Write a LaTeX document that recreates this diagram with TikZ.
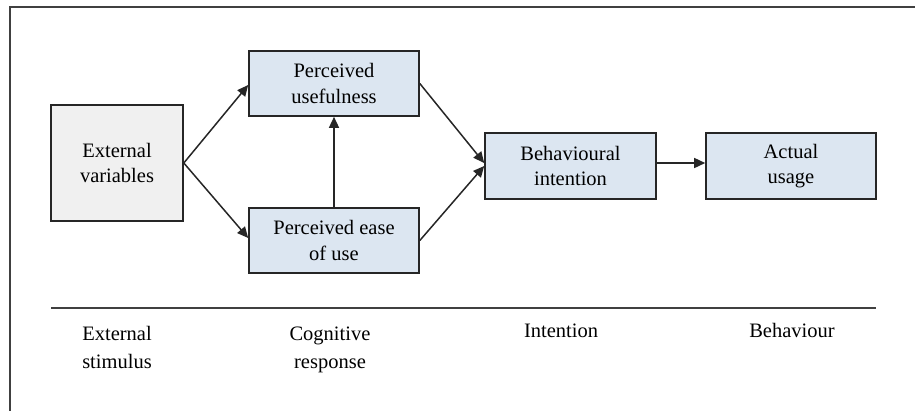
\documentclass[tikz,border=0pt]{standalone}
\usepackage{fontspec}
\setmainfont{Liberation Serif}
\usetikzlibrary{arrows.meta}
\begin{document}
\begin{tikzpicture}[x=1pt,y=-1pt,
  box/.style={draw=black!85, line width=1.6pt, fill=boxblue, align=center,
    font=\fontsize{20.5}{25.5}\selectfont, inner sep=0pt},
  extbox/.style={box, fill=black!6},
  conn/.style={draw=black!85, line width=1.5pt, -{Triangle[length=11pt,width=10pt]}},
  caption/.style={align=center, font=\fontsize{20.5}{28}\selectfont, anchor=north}]
\definecolor{boxblue}{HTML}{DCE6F1}
\useasboundingbox (0,0) rectangle (915,410);
% outer frame, running off the right and bottom edges
\draw[black!75, line width=1.6pt] (10,412) -- (10,7) -- (917,7);
% boxes
\node[extbox, minimum width=132pt, minimum height=116pt] (ext) at (117,163) {External\\variables};
\node[box, minimum width=170pt, minimum height=65pt] (pu) at (334,83.5) {Perceived\\usefulness};
\node[box, minimum width=170pt, minimum height=65pt] (peu) at (334,240.5) {Perceived ease\\of use};
\node[box, minimum width=171pt, minimum height=66pt] (bi) at (570.5,166) {Behavioural\\intention};
\node[box, minimum width=170pt, minimum height=66pt] (au) at (791,166) {Actual\\usage};
% connectors
\coordinate (extout) at (ext.east);
\draw[conn] (extout) -- ([yshift=-1.5pt]pu.west);
\draw[conn] (extout) -- ([yshift=2.5pt]peu.west);
\draw[conn] (peu.north) -- (pu.south);
\draw[conn] (pu.east) -- ([yshift=3pt]bi.west);
\draw[conn] (peu.east) -- ([yshift=0pt]bi.west);
\draw[conn] ([yshift=3pt]bi.east) -- ([yshift=3pt]au.west);
% stage divider and stage names
\coordinate (ruleL) at (51,308);
\coordinate (ruleR) at (876,308);
\draw[black!75, line width=1.6pt] (ruleL) -- (ruleR);
\node[caption] (s1) at (117,323) {External\\stimulus};
\node[caption] (s2) at (330,323) {Cognitive\\response};
\node[caption] (s3) at (561,320) {Intention};
\node[caption] (s4) at (792,320) {Behaviour};
\end{tikzpicture}
\end{document}
